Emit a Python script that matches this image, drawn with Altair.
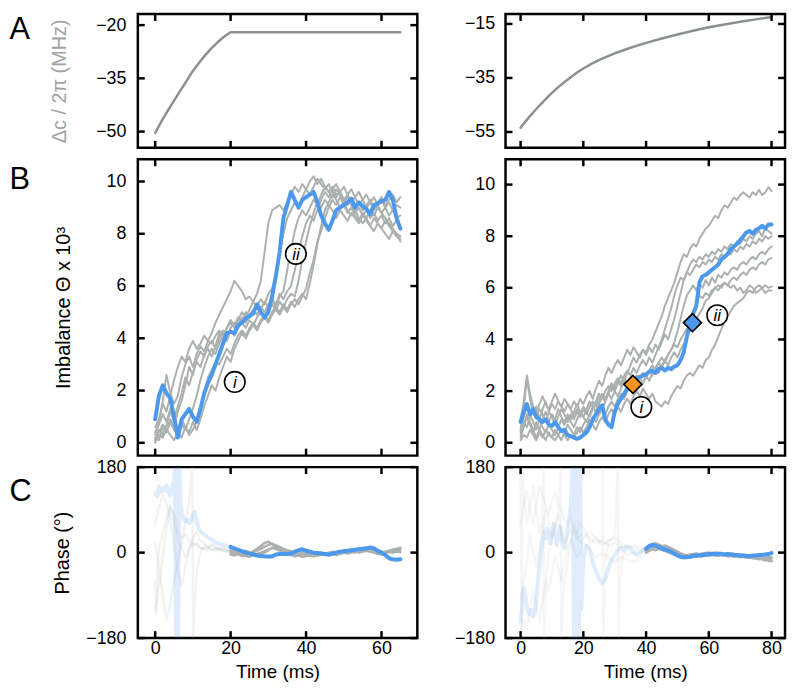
import altair as alt
import pandas as pd

FONT = "Liberation Sans"
GRAY = "#aab1af"
BLUE = "#4b98ec"
ORANGE = "#f7941d"
A_LINE = "#8a918f"
TITLE_GRAY = "#9fa4a3"
MINUS_EXPR = "replace(datum.label, '-', '\u2212')"

W = 282
HA, HB, HC = 135, 299, 172.5
U = alt.Undefined

# ---------------- axes ----------------
x_left_ticks = [0, 20, 40, 60]
x_right_ticks = [0, 20, 40, 60, 80]
x_left_domain = [-4.6, 69.5]
x_right_domain = [-4.8, 84.3]
a_left_ticks = [-50, -35, -20]
a_right_ticks = [-55, -35, -15]
a_left_domain = [-54.57, -16.86]
a_right_domain = [-60.85, -11.31]
b_ticks = [0, 2, 4, 6, 8, 10]
b_left_domain = [-0.49, 10.85]
b_right_domain = [-0.5, 10.98]
c_ticks = [-180, 0, 180]
c_domain = [-180, 180]

# ---------------- panel A ----------------
a_left_t = [0, 1, 2, 3, 4, 5, 6, 7, 8, 9, 10, 11, 12, 13, 14, 15, 16, 17, 18, 19, 20, 65]
a_left_v = [-50.4, -48.4, -46.5, -44.7, -43.0, -41.3, -39.6, -37.9, -36.3, -34.6, -32.9,
            -31.5, -30.1, -28.8, -27.6, -26.4, -25.4, -24.4, -23.5, -22.7, -22.0, -22.0]
a_right_t = [0, 1, 2, 3, 4, 5, 6, 7, 8, 9, 10, 12, 14, 16, 18, 20, 23, 26, 30, 35, 40,
             45, 50, 55, 60, 65, 70, 75, 80]
a_right_v = [-53.4, -51.9, -50.5, -49.1, -47.8, -46.5, -45.2, -44.0, -42.8, -41.6, -40.5,
             -38.4, -36.5, -34.7, -33.0, -31.5, -29.5, -27.8, -25.9, -23.8, -22.0,
             -20.4, -18.9, -17.5, -16.2, -15.2, -14.2, -13.3, -12.4]

# ---------------- panel B, left (t = 0..65 ms) ----------------
bl_blue = [0.9, 1.8, 2.2, 1.9, 1.7, 1.0, 0.2, 0.9, 1.1, 1.3,
           1.0, 0.8, 1.3, 1.9, 2.3, 2.6, 3.0, 3.4, 3.8, 4.2,
           4.25, 4.2, 4.5, 4.6, 4.75, 4.85, 4.95, 5.3, 5.0, 4.8,
           5.0, 5.6, 6.4, 7.3, 8.6, 9.1, 9.6, 9.3, 9.0, 9.3,
           9.4, 9.5, 9.6, 9.2, 8.7, 8.4, 8.15, 8.5, 8.9, 9.0,
           9.1, 9.2, 9.35, 9.0, 9.2, 9.05, 8.95, 8.75, 9.1, 9.15,
           9.25, 9.3, 9.6, 9.3, 8.6, 8.2]
bl_gray1 = [0.6, 0.9, 1.5, 1.2, 1.8, 2.4, 2.9, 3.3, 3.1, 3.6,
            3.9, 3.6, 3.8, 4.1, 3.9, 4.2, 4.6, 4.9, 5.2, 5.5,
            5.8, 6.2, 6.0, 5.8, 5.5, 5.6, 5.4, 5.7, 6.2, 7.3,
            8.4, 8.9, 9.0, 9.1, 8.9, 9.2, 9.5, 9.8, 9.6, 9.9,
            9.7, 10.0, 10.2, 9.9, 10.1, 9.8, 9.6, 9.8, 9.5, 9.6,
            9.3, 9.5, 9.2, 9.4, 9.1, 9.3, 9.0, 9.2, 8.9, 9.1,
            8.8, 9.0, 8.7, 8.9, 8.6, 8.7]
bl_gray2 = [0.3, 0.8, 1.6, 2.6, 1.9, 1.5, 1.8, 2.5, 3.0, 3.3,
            2.9, 3.4, 3.7, 3.5, 3.9, 3.8, 4.1, 4.3, 4.1, 4.4,
            4.6, 4.4, 4.7, 5.0, 4.8, 5.1, 5.4, 5.2, 5.5, 5.3,
            5.7, 5.9, 6.4, 7.2, 8.0, 8.6, 8.9, 9.2, 9.0, 9.4,
            9.7, 9.5, 9.8, 10.1, 9.9, 9.7, 9.9, 9.6, 9.4, 9.6,
            9.3, 9.1, 9.3, 9.0, 9.2, 8.9, 9.1, 9.3, 9.0, 9.2,
            9.4, 9.1, 9.3, 9.5, 9.2, 9.4]
bl_gray3 = [0.1, 0.4, 0.7, 0.5, 0.9, 0.6, 1.2, 1.6, 2.2, 2.9,
            2.6, 3.2, 3.5, 3.3, 3.7, 3.9, 3.6, 4.0, 4.3, 4.1,
            4.4, 4.6, 4.5, 4.8, 4.6, 4.9, 5.1, 4.9, 5.2, 5.0,
            5.3, 5.5, 5.2, 5.6, 5.8, 6.6, 7.4, 8.1, 8.6, 8.9,
            8.7, 9.0, 9.3, 9.1, 9.5, 9.8, 9.6, 9.4, 9.7, 9.5,
            9.2, 9.4, 9.1, 8.8, 9.0, 8.7, 8.9, 8.6, 8.8, 8.5,
            8.7, 8.4, 8.6, 8.3, 8.5, 8.2]
bl_gray4 = [0.2, 0.1, 0.6, 0.4, 0.8, 0.5, 0.3, 0.7, 0.5, 0.9,
            1.3, 1.8, 2.4, 2.9, 3.3, 3.6, 3.4, 3.8, 4.1, 3.9,
            4.3, 4.1, 4.4, 4.6, 4.4, 4.7, 4.5, 4.8, 5.0, 4.8,
            5.1, 5.3, 5.1, 5.4, 5.2, 5.5, 5.7, 5.6, 6.2, 7.0,
            7.7, 8.3, 8.8, 9.2, 9.0, 9.3, 9.1, 8.9, 8.6, 8.9,
            8.7, 8.5, 8.8, 8.6, 8.4, 8.7, 8.5, 8.3, 8.6, 8.4,
            8.2, 8.5, 8.3, 8.1, 8.0, 7.9]
bl_gray5 = [0.0, 0.3, 0.2, 0.5, 0.3, 0.1, 0.4, 0.2, 0.6, 0.3,
            0.5, 0.8, 1.2, 1.9, 2.5, 2.8, 3.1, 3.0, 3.3, 3.6,
            3.4, 3.8, 4.1, 4.3, 4.1, 4.4, 4.6, 4.4, 4.7, 4.9,
            4.7, 5.0, 5.2, 5.0, 5.3, 5.1, 5.4, 5.2, 5.5, 5.7,
            5.5, 6.1, 6.8, 7.6, 8.3, 8.9, 9.2, 9.5, 9.3, 9.0,
            9.2, 8.9, 8.7, 8.9, 8.6, 8.4, 8.6, 8.3, 8.1, 8.4,
            8.2, 8.0, 7.8, 8.1, 7.9, 7.8]
bl_gray6 = [0.4, 0.7, 1.1, 0.8, 1.3, 0.9, 1.4, 1.9, 2.5, 2.2,
            2.7, 3.1, 2.9, 3.4, 3.6, 3.3, 3.7, 4.2, 4.0, 4.4,
            4.7, 4.5, 4.8, 4.6, 5.0, 4.8, 5.1, 5.3, 5.1, 5.4,
            5.2, 5.5, 5.3, 5.7, 5.5, 5.8, 6.0, 6.6, 7.3, 7.9,
            8.4, 8.7, 8.5, 8.9, 9.3, 9.6, 9.4, 9.7, 9.9, 9.6,
            9.8, 9.5, 9.7, 9.4, 9.6, 9.3, 9.5, 9.2, 9.4, 9.1,
            9.3, 9.0, 9.2, 8.9, 9.1, 9.0]
bl_gray7 = [0.1, 0.5, 0.3, 0.7, 1.2, 0.8, 0.5, 0.9, 0.6, 0.4,
            0.8, 0.5, 0.9, 1.4, 1.8, 2.2, 2.0, 2.5, 2.9, 3.3,
            3.1, 3.6, 3.9, 4.2, 4.0, 4.3, 4.5, 4.3, 4.6, 4.8,
            4.6, 4.9, 5.1, 4.9, 5.2, 5.0, 5.3, 5.5, 5.3, 5.6,
            5.9, 6.5, 7.0, 7.7, 8.1, 8.6, 9.0, 9.3, 9.1, 9.4,
            9.1, 8.8, 9.0, 8.7, 8.5, 8.8, 8.6, 8.9, 8.7, 9.0,
            8.8, 8.6, 8.4, 8.2, 8.0, 7.7]

# ---------------- panel B, right (t = 0..80 ms) ----------------
br_blue = [0.8, 1.2, 1.5, 1.1, 1.3, 1.0, 0.9, 0.8, 0.9, 0.7,
           0.65, 0.8, 0.6, 0.45, 0.5, 0.3, 0.25, 0.2, 0.15, 0.2,
           0.3, 0.4, 0.6, 0.9, 1.1, 1.3, 1.45, 0.9, 0.7, 0.6,
           1.2, 1.5, 1.7, 1.9, 2.1, 2.25, 2.4, 2.5, 2.55, 2.6,
           2.65, 2.75, 2.8, 2.7, 2.85, 2.9, 2.8, 2.9, 2.85, 2.95,
           3.0, 3.2, 3.5, 4.1, 4.6, 5.0, 5.3, 6.2, 6.45, 6.5,
           6.6, 6.7, 6.8, 6.9, 7.1, 7.2, 7.3, 7.5, 7.6, 7.7,
           7.85, 8.0, 8.15, 8.2, 8.1, 8.25, 8.3, 8.4, 8.3, 8.45, 8.45]
br_gray1 = [0.4, 1.3, 2.5, 1.7, 1.1, 1.4, 0.9, 1.3, 1.6, 1.2,
            1.5, 1.3, 1.6, 1.4, 1.7, 1.5, 1.3, 1.6, 1.4, 1.7,
            1.5, 1.8, 2.0, 1.7, 2.1, 2.4, 2.2, 2.6, 2.9, 2.7,
            3.0, 3.2, 3.0, 3.3, 3.6, 3.4, 3.7, 3.5, 3.3, 3.6,
            3.5, 3.8, 4.0, 4.3, 4.6, 4.9, 5.3, 5.6, 5.9, 6.2,
            6.6, 7.0, 7.3, 7.2, 7.5, 7.7, 7.6, 7.9, 8.1, 8.3,
            8.4, 8.6, 8.8, 8.7, 9.0, 9.2, 9.1, 9.3, 9.5, 9.4,
            9.6, 9.7, 9.6, 9.5, 9.7, 9.6, 9.8, 9.6, 9.7, 9.9, 9.75]
br_gray2 = [0.2, 0.6, 1.0, 0.7, 0.4, 0.8, 0.5, 0.9, 1.2, 0.8,
            1.1, 0.9, 1.3, 1.0, 0.8, 1.1, 0.9, 1.2, 1.5, 1.2,
            1.0, 1.3, 1.6, 1.4, 1.2, 1.5, 1.8, 1.6, 1.9, 2.2,
            2.0, 2.3, 2.6, 2.4, 2.7, 3.0, 3.3, 3.1, 3.4, 3.6,
            3.4, 3.7, 3.5, 3.8, 3.6, 3.9, 4.2, 4.0, 4.4, 4.8,
            5.3, 5.8, 6.3, 6.6, 6.9, 7.1, 7.0, 7.2, 7.1, 7.3,
            7.2, 7.4, 7.3, 7.5, 7.4, 7.6, 7.5, 7.7, 7.6, 7.8,
            7.7, 7.9, 7.8, 8.0, 7.9, 8.1, 8.2, 8.0, 8.3, 8.2, 8.1]
br_gray3 = [0.6, 1.0, 1.4, 1.1, 0.8, 0.5, 0.9, 0.6, 0.4, 0.7,
            0.5, 0.3, 0.6, 0.9, 0.7, 1.0, 0.8, 0.6, 0.9, 1.2,
            1.0, 0.8, 1.1, 1.4, 1.2, 1.5, 1.3, 1.6, 1.9, 1.7,
            2.0, 1.8, 2.1, 2.4, 2.2, 2.5, 2.3, 2.6, 2.4, 2.7,
            2.5, 2.8, 3.0, 2.8, 3.1, 3.3, 3.1, 3.4, 3.6, 3.9,
            4.3, 4.8, 5.3, 5.7, 5.9, 6.1, 5.9, 6.2, 6.0, 6.3,
            6.1, 6.4, 6.2, 6.5, 6.4, 6.6, 6.5, 6.7, 6.8, 6.7,
            6.9, 7.0, 6.9, 7.1, 7.2, 7.1, 7.3, 7.4, 7.3, 7.5, 7.6]
br_gray4 = [0.1, 0.3, 0.2, 0.5, 0.3, 0.1, 0.4, 0.2, 0.5, 0.3,
            0.2, 0.5, 0.3, 0.1, 0.4, 0.7, 0.5, 0.3, 0.6, 0.4,
            0.7, 0.9, 0.7, 1.0, 0.8, 1.1, 1.3, 1.1, 1.4, 1.6,
            1.4, 1.7, 1.9, 1.7, 2.0, 2.2, 2.0, 2.3, 2.5, 2.3,
            2.6, 2.4, 2.7, 2.9, 2.7, 3.0, 3.2, 3.0, 3.3, 3.5,
            3.3, 3.6, 3.8, 4.1, 4.5, 5.0, 5.4, 5.7, 5.6, 5.8,
            5.7, 5.9, 6.0, 5.9, 6.1, 6.2, 6.1, 6.3, 6.4, 6.3,
            6.5, 6.6, 6.5, 6.7, 6.8, 6.7, 6.9, 7.0, 6.9, 7.1, 7.15]
br_gray5 = [0.3, 0.7, 1.1, 0.8, 0.5, 0.2, 0.5, 0.3, 0.1, 0.4,
            0.2, 0.1, 0.3, 0.5, 0.3, 0.1, 0.3, 0.2, 0.4, 0.6,
            0.4, 0.6, 0.9, 0.7, 0.5, 0.8, 1.0, 0.8, 1.1, 1.3,
            1.1, 1.4, 1.2, 1.5, 1.7, 1.5, 1.8, 2.0, 1.8, 2.1,
            1.9, 1.7, 1.9, 1.6, 1.5, 1.4, 1.6, 1.5, 1.8, 2.0,
            2.2, 2.1, 2.4, 2.6, 2.7, 2.6, 2.8, 3.0, 2.9, 3.2,
            3.3, 3.6, 3.8, 4.1, 4.4, 4.7, 4.9, 5.1, 5.3, 5.4,
            5.5, 5.6, 5.8, 5.9, 5.8, 6.0, 6.1, 6.0, 6.1, 6.0, 6.05]
br_gray6 = [0.9, 1.6, 2.6, 1.9, 1.4, 1.0, 1.3, 1.1, 0.8, 1.2,
            1.0, 0.7, 1.0, 1.3, 1.1, 0.8, 1.1, 0.9, 1.2, 1.0,
            1.3, 1.1, 1.4, 1.6, 1.4, 1.7, 1.9, 1.7, 2.0, 2.3,
            2.1, 2.4, 2.2, 2.5, 2.3, 2.1, 2.4, 2.2, 2.5, 2.7,
            2.5, 2.8, 2.6, 2.9, 3.1, 2.9, 3.2, 3.4, 3.6, 3.8,
            3.7, 4.0, 4.2, 4.4, 4.3, 4.6, 4.8, 5.0, 5.2, 5.5,
            5.6, 5.8, 6.0, 6.1, 6.0, 6.2, 6.1, 6.0, 6.1, 5.9,
            6.0, 5.8, 5.9, 6.1, 6.0, 5.8, 5.9, 6.0, 5.8, 5.9, 5.9]
br_gray7 = [0.5, 0.8, 0.6, 1.0, 1.4, 1.1, 1.5, 1.8, 1.5, 1.3,
            1.6, 1.9, 1.6, 1.4, 1.2, 1.5, 1.3, 1.0, 1.3, 1.1,
            1.4, 1.2, 1.0, 1.3, 1.6, 1.9, 1.7, 2.0, 2.2, 2.0,
            2.3, 2.5, 2.3, 2.6, 2.8, 2.6, 2.9, 2.7, 3.0, 3.2,
            3.0, 3.3, 3.1, 3.4, 3.7, 4.0, 4.4, 4.8, 5.2, 5.7,
            6.1, 6.4, 6.3, 6.6, 6.5, 6.7, 6.9, 6.8, 7.0, 6.9,
            7.1, 7.0, 7.2, 7.1, 7.3, 7.2, 7.4, 7.3, 7.5, 7.4,
            7.6, 7.5, 7.7, 7.6, 7.8, 7.7, 7.9, 7.8, 8.0, 7.9, 8.0]

# markers and circled labels in panel B
bl_label_t = [21.1, 37.3]
bl_label_v = [2.33, 7.23]
bl_label_txt = ["i", "ii"]
br_label_t = [38.5, 62.7]
br_label_v = [1.38, 4.94]
br_label_txt = ["i", "ii"]
br_diamond_t = [35.8, 54.8]
br_diamond_v = [2.26, 4.65]
br_diamond_kind = ["i", "ii"]

# ---------------- panel C, left ----------------
cl_blue = [12, 9, 6, 3, 0, -2, -4, -6, -7, -8,
           -8, -8, -4, -3, -3, -3, -2, 2, 5, 7,
           4, 2, 0, -1, -2, -3, -4, -2, 0, 2,
           3, 4, 5, 6, 7, 8, 9, 11, 9, 4,
           0, -5, -12, -14, -15, -14]            # t = 20..65
cl_gray1 = [2, 0, -3, -1, -4, -2, 3, 8, 14, 20, 23, 18, 15, 12, 8, 5, 3, 0, -2, 1,
            -1, -3, -5, -2, 0, -3, -1, 2, 0, 3, 1, 4, 2, 5, 6, 4, 7, 5, 3, 1,
            -1, 2, 4, 6, 8, 10]
cl_gray2 = [-4, -6, -3, -7, -5, -2, 0, 4, 8, 12, 16, 19, 14, 10, 6, 2, -1, -4, -6, -3,
            -5, -7, -4, -2, -5, -3, -6, -4, -1, -3, 0, -2, 1, 3, 0, 2, 4, 2, 0, -3,
            -1, 1, 3, 2, 4, 5]
cl_gray3 = [6, 3, 5, 2, 4, 1, -2, -5, -3, 0, 5, 10, 13, 9, 5, 2, -1, -3, 0, -2,
            -4, -1, -3, -6, -4, -2, 0, -3, -5, -2, 1, -1, 2, 0, 3, 5, 7, 9, 6, 4,
            2, 0, 3, 5, 7, 9]
cl_gray4 = [-2, 1, -1, -4, -7, -9, -6, -3, 0, 3, 6, 10, 8, 4, 1, -2, -5, -8, -6, -9,
            -7, -5, -8, -6, -3, -5, -2, 0, -2, 1, -1, 2, 0, 2, 4, 3, 5, 3, 1, -2,
            -4, -1, 1, 0, 2, 1]
cl_fade_blue_t = [0, 0.5, 1, 1.5, 2, 2.5, 3, 3.5, 4, 4.5, 5, 5.2, 5.5, 5.8, 6.1, 6.4, 6.7, 7,
                  7.5, 8, 8.5, 9, 9.5, 10, 10.5, 11, 11.5, 12, 13, 14, 15, 16, 17, 18, 19, 20]
cl_fade_blue_v = [125, 118, 140, 128, 136, 130, 142, 128, 120, 138, 150, 180, -180, 180, -180,
                  180, 110, 85, 72, 66, 70, 62, 68, 80, 86, 66, 52, 45, 38, 32, 27, 22, 19, 16,
                  14, 12]
cl_fade_g1_t = [0, 1, 2, 3, 4, 5, 6, 7, 8, 9, 10, 11, 12, 13, 14, 15, 16, 17, 18, 19, 20]
cl_fade_g1_v = [-120, -70, -10, 50, 95, 80, 45, 30, 40, 25, 15, 20, 10, 8, 12, 6, 4, 8, 3, 2, 0]
cl_fade_g2_t = [0, 1, 2, 3, 4, 5, 6, 7, 8, 9, 10, 11, 12, 13, 14, 15, 16, 17, 18, 19, 20]
cl_fade_g2_v = [60, 95, 120, 105, 70, 20, -40, -70, -30, 10, 30, 45, 25, 20, 12, 15, 10, 6, 8, 4, 3]
cl_fade_g3_t = [0, 1, 2, 3, 4, 5, 6, 7, 8, 9, 9.5, 9.8, 10.1, 10.4, 11, 12, 13, 14, 15, 16,
                17, 18, 19, 20]
cl_fade_g3_v = [20, -30, -90, -140, -110, -60, -20, 20, 60, 110, 150, 180, -180, -120, -40, 0,
                15, 10, 18, 12, 8, 10, 5, 2]
cl_fade_g4_t = [0, 0.3, 0.6, 1, 2, 3, 4, 5, 6, 7, 8, 9, 10, 12, 14, 16, 18, 20]
cl_fade_g4_v = [-60, -130, -40, 10, 40, 70, 100, 60, 30, 10, -10, 5, 20, 10, 5, 8, 4, 6]

# ---------------- panel C, right ----------------
cr_blue = [8, 14, 16, 14, 12, 9, 7, 4, 2, -2,
           -6, -9, -10, -10, -9, -7, -6, -6, -5, -4,
           -3, -3, -2, -3, -3, -4, -3, -4, -5, -5,
           -6, -6, -7, -7, -6, -6, -5, -5, -4, -3, -1]   # t = 40..80
cr_gray1 = [5, 10, 12, 15, 17, 14, 11, 8, 6, 3, 0, -3, -5, -7, -6, -5, -4, -3, -4, -2,
            -1, -2, -3, -1, -2, -3, -4, -2, -3, -5, -4, -6, -5, -7, -8, -7, -9, -10, -12,
            -13, -12]
cr_gray2 = [2, 6, 9, 12, 10, 13, 15, 12, 9, 6, 2, -2, -5, -8, -10, -9, -8, -6, -7, -5,
            -6, -4, -5, -6, -4, -5, -7, -6, -8, -7, -9, -8, -10, -11, -10, -12, -14, -13,
            -15, -17, -18]
cr_gray3 = [10, 15, 18, 20, 16, 12, 14, 10, 7, 4, 1, -1, -4, -6, -4, -3, -2, -4, -2, -1,
            0, -1, -2, 0, -1, -3, -2, -4, -3, -5, -6, -5, -7, -6, -8, -9, -8, -10, -11,
            -9, -10]
cr_gray4 = [0, 4, 7, 5, 8, 6, 3, 1, -2, -4, -7, -9, -12, -10, -11, -8, -9, -7, -8, -6,
            -7, -5, -6, -7, -5, -6, -8, -7, -9, -8, -10, -9, -11, -10, -12, -13, -12, -14,
            -16, -15, -17]
cr_fade_blue_t = [0, 0.5, 1, 1.5, 2, 2.5, 3, 3.5, 4, 4.5, 5, 5.5, 6, 6.5, 7, 7.5, 8, 8.5, 9,
                  9.5, 10, 10.5, 11, 11.5, 12, 12.5, 13, 13.5, 14, 14.5, 15, 15.5, 16, 16.3,
                  16.6, 17, 17.4, 17.8, 18.2, 18.6, 19, 19.4, 20, 21, 22, 23, 24, 25, 26, 27,
                  28, 29, 30, 31, 32, 33, 34, 35, 36, 37, 38, 39, 40]
cr_fade_blue_v = [-145, -110, -75, -90, -115, -125, -130, -120, -135, -125, -95, -60, -30, 0,
                  25, 45, 30, 50, 35, 20, 40, 60, 35, 15, 30, 55, 40, 20, 10, 30, 50, 70, 100,
                  140, 180, -180, 180, -180, 180, -180, 180, -120, -10, 15, 5, -20, -40, -55,
                  -65, -55, -35, -15, -5, 5, 10, 5, 12, 8, 0, -5, -2, 5, 10]
cr_fade_g1_t = [0, 0.3, 0.6, 1, 2, 3, 4, 5, 6, 7, 7.3, 7.5, 7.8, 8, 9, 10, 11, 12, 13, 14,
                16, 18, 20, 22, 24, 26, 28, 30, 32, 34, 36, 38, 40]
cr_fade_g1_v = [180, -180, 180, 120, 60, 100, 140, 90, 40, 70, 180, -180, -120, -60, 0, 30,
                60, 80, 40, 20, 50, 30, 40, 30, 20, 25, 15, 20, 10, 15, 10, 5, 8]
cr_fade_g2_t = [0, 1, 2, 3, 4, 5, 6, 7, 8, 9, 10, 11, 12, 12.5, 12.8, 13, 13.3, 14, 15, 16,
                17, 18, 19, 20, 22, 24, 26, 26.2, 26.4, 27, 28, 30, 32, 34, 36, 38, 40]
cr_fade_g2_v = [-100, -60, -20, 40, 0, -30, 10, 50, 90, 60, 30, 50, 80, 130, 180, -180, -120,
                -60, -20, 20, 60, 40, 20, 30, 45, 30, 20, 180, -180, -20, 25, 30, 20, 10, 15,
                10, 12]
cr_fade_g3_t = [0, 1, 2, 3, 4, 5, 6, 7, 8, 9, 10, 11, 12, 13, 14, 15, 16, 17, 18, 19, 20,
                21, 22, 24, 26, 28, 30, 31, 31.2, 31.5, 32, 33, 34, 36, 38, 40]
cr_fade_g3_v = [60, 100, 130, 90, 60, 100, 140, 120, 100, 80, 110, 130, 100, 90, 70, 60, 80,
                50, 40, 60, 55, 40, 20, 30, 15, 25, 35, 180, -180, -100, -30, 0, -5, 0, 2, 0]
cr_fade_g4_t = [0, 1, 2, 3, 4, 5, 6, 7, 8, 9, 10, 11, 12, 13, 14, 15, 16, 17, 18, 19, 20,
                22, 24, 26, 28, 30, 32, 34, 36, 38, 40]
cr_fade_g4_v = [-170, -140, -160, -120, -80, -110, -150, -100, -60, -80, -40, -10, -30, -60,
                -20, 10, 30, 10, -10, 0, 20, 10, -10, 0, -10, -20, -10, -15, -20, -10, -5]


# ---------------- helpers ----------------
def long_df(traces, t0):
    rows = []
    for name, vals in traces:
        for i, v in enumerate(vals):
            rows.append({"t": t0 + i, "v": v, "trace": name, "i": i})
    return pd.DataFrame(rows)


def pair_df(traces):
    rows = []
    for name, ts, vs in traces:
        for i, (t, v) in enumerate(zip(ts, vs)):
            rows.append({"t": t, "v": v, "trace": name, "i": i})
    return pd.DataFrame(rows)


def scale(dom):
    return alt.Scale(domain=dom, nice=False, zero=False)


def y_axis(values, pad, title=None, title_x=None, h=None, color="black"):
    kw = dict(values=values, ticks=False, tickSize=0, domain=False, grid=False,
              labelFont=FONT, labelFontSize=18, labelColor="black", labelPadding=pad,
              labelFlush=False, labelOverlap=False, labelExpr=MINUS_EXPR)
    if title is not None:
        kw.update(title=title, titleFont=FONT, titleFontSize=20, titleFontWeight="normal",
                  titleColor=color, titleX=title_x, titleY=h / 2, titleAngle=270,
                  titleAlign="center", titleBaseline="middle")
    else:
        kw["title"] = None
    return alt.Axis(**kw)


def x_axis(values):
    return alt.Axis(values=values, ticks=False, tickSize=0, domain=False, grid=False,
                    labelFont=FONT, labelFontSize=18, labelColor="black", labelPadding=2,
                    labelFlush=False, labelOverlap=False,
                    title="Time (ms)", titleFont=FONT, titleFontSize=19,
                    titleFontWeight="normal", titleColor="black", titleX=W / 2, titleY=40,
                    titleAlign="center", titleBaseline="alphabetic")


def lines(df, color, width, xs, ys, xax, yax=U, opacity=1.0):
    return alt.Chart(df).mark_line(color=color, strokeWidth=width, opacity=opacity,
                                   clip=True, strokeJoin="round", strokeCap="round").encode(
        x=alt.X("t:Q", scale=xs, axis=xax),
        y=alt.Y("v:Q", scale=ys, axis=yax),
        detail="trace:N",
        order="i:Q",
    )


def tick_marks(xvals, yvals, xs, ys, h, xax):
    L = 7
    dx = pd.DataFrame({"t": xvals})
    dy = pd.DataFrame({"v": yvals})
    rule = dict(color="black", strokeWidth=2.5)
    xe = alt.X("t:Q", scale=xs, axis=xax)
    ye = alt.Y("v:Q", scale=ys)
    return [
        alt.Chart(dx).mark_rule(**rule).encode(x=xe, y=alt.value(0), y2=alt.value(L)),
        alt.Chart(dx).mark_rule(**rule).encode(x=xe, y=alt.value(h), y2=alt.value(h - L)),
        alt.Chart(dy).mark_rule(**rule).encode(y=ye, x=alt.value(0), x2=alt.value(L)),
        alt.Chart(dy).mark_rule(**rule).encode(y=ye, x=alt.value(W), x2=alt.value(W - L)),
    ]


def letter(ch, base_y):
    return alt.Chart(pd.DataFrame({"lab": [ch]})).mark_text(
        align="left", baseline="alphabetic", fontSize=31, font=FONT, color="black"
    ).encode(text="lab:N", x=alt.value(-129.5), y=alt.value(base_y))


def circled(ts, vs, txt, xs, ys):
    df = pd.DataFrame({"t": ts, "v": vs, "txt": txt})
    circ = alt.Chart(df).mark_point(shape="circle", filled=True, fill="white", stroke="black",
                                    strokeWidth=1.6, size=430, opacity=1).encode(
        x=alt.X("t:Q", scale=xs, axis=None), y=alt.Y("v:Q", scale=ys))
    text = alt.Chart(df).mark_text(font=FONT, fontSize=17, fontStyle="italic", color="black",
                                   align="center", baseline="middle", dy=1).encode(
        x=alt.X("t:Q", scale=xs, axis=None), y=alt.Y("v:Q", scale=ys),
        text="txt:N")
    return [circ, text]


# ---------------- panels ----------------
xsL, xsR = scale(x_left_domain), scale(x_right_domain)

# A left
ysAL = scale(a_left_domain)
A_L = alt.layer(
    lines(pair_df([("a", a_left_t, a_left_v)]), A_LINE, 2.5, xsL, ysAL, None,
          y_axis(a_left_ticks, 12, "Δc / 2π (MHz)", -78.5, HA, TITLE_GRAY)),
    *tick_marks(x_left_ticks, a_left_ticks, xsL, ysAL, HA, None),
    letter("A", 25.5),
).properties(width=W, height=HA)

# A right
ysAR = scale(a_right_domain)
A_R = alt.layer(
    lines(pair_df([("a", a_right_t, a_right_v)]), A_LINE, 2.5, xsR, ysAR, None,
          y_axis(a_right_ticks, 11)),
    *tick_marks(x_right_ticks, a_right_ticks, xsR, ysAR, HA, None),
).properties(width=W, height=HA)

# B left
ysBL = scale(b_left_domain)
bl_gray_df = long_df([("g1", bl_gray1), ("g2", bl_gray2), ("g3", bl_gray3), ("g4", bl_gray4),
                      ("g5", bl_gray5), ("g6", bl_gray6), ("g7", bl_gray7)], 0)
B_L = alt.layer(
    lines(bl_gray_df, GRAY, 2, xsL, ysBL, None,
          y_axis(b_ticks, 12, "Imbalance Θ x 10³", -75, HB)),
    lines(long_df([("b", bl_blue)], 0), BLUE, 4, xsL, ysBL, None),
    *circled(bl_label_t, bl_label_v, bl_label_txt, xsL, ysBL),
    *tick_marks(x_left_ticks, b_ticks, xsL, ysBL, HB, None),
    letter("B", 30.2),
).properties(width=W, height=HB)

# B right
ysBR = scale(b_right_domain)
br_gray_df = long_df([("g1", br_gray1), ("g2", br_gray2), ("g3", br_gray3), ("g4", br_gray4),
                      ("g5", br_gray5), ("g6", br_gray6), ("g7", br_gray7)], 0)
diamonds = alt.Chart(pd.DataFrame({"t": br_diamond_t, "v": br_diamond_v,
                                   "kind": br_diamond_kind})).mark_point(
    shape="diamond", filled=True, size=330, stroke="black", strokeWidth=1.6, opacity=1
).encode(
    x=alt.X("t:Q", scale=xsR, axis=None), y=alt.Y("v:Q", scale=ysBR),
    fill=alt.Fill("kind:N", scale=alt.Scale(domain=["i", "ii"], range=[ORANGE, BLUE]),
                  legend=None),
)
B_R = alt.layer(
    lines(br_gray_df, GRAY, 2, xsR, ysBR, None, y_axis(b_ticks, 11)),
    lines(long_df([("b", br_blue)], 0), BLUE, 4, xsR, ysBR, None),
    diamonds,
    *circled(br_label_t, br_label_v, br_label_txt, xsR, ysBR),
    *tick_marks(x_right_ticks, b_ticks, xsR, ysBR, HB, None),
).properties(width=W, height=HB)

# C left
ysC = scale(c_domain)
cl_fade_gray_df = pair_df([("f1", cl_fade_g1_t, cl_fade_g1_v), ("f2", cl_fade_g2_t, cl_fade_g2_v),
                           ("f3", cl_fade_g3_t, cl_fade_g3_v), ("f4", cl_fade_g4_t, cl_fade_g4_v)])
C_L = alt.layer(
    lines(cl_fade_gray_df, GRAY, 2.5, xsL, ysC, x_axis(x_left_ticks),
          y_axis(c_ticks, 12, "Phase (°)", -75.5, HC), opacity=0.15),
    lines(pair_df([("fb", cl_fade_blue_t, cl_fade_blue_v)]), BLUE, 4, xsL, ysC, U, opacity=0.18),
    lines(long_df([("g1", cl_gray1), ("g2", cl_gray2), ("g3", cl_gray3), ("g4", cl_gray4)], 20),
          GRAY, 2.5, xsL, ysC, U),
    lines(long_df([("b", cl_blue)], 20), BLUE, 4, xsL, ysC, U),
    *tick_marks(x_left_ticks, c_ticks, xsL, ysC, HC, U),
    letter("C", 34.2),
).properties(width=W, height=HC)

# C right
cr_fade_gray_df = pair_df([("f1", cr_fade_g1_t, cr_fade_g1_v), ("f2", cr_fade_g2_t, cr_fade_g2_v),
                           ("f3", cr_fade_g3_t, cr_fade_g3_v), ("f4", cr_fade_g4_t, cr_fade_g4_v)])
C_R = alt.layer(
    lines(cr_fade_gray_df, GRAY, 2.5, xsR, ysC, x_axis(x_right_ticks),
          y_axis(c_ticks, 11), opacity=0.12),
    lines(pair_df([("fb", cr_fade_blue_t, cr_fade_blue_v)]), BLUE, 4, xsR, ysC, U, opacity=0.18),
    lines(long_df([("g1", cr_gray1), ("g2", cr_gray2), ("g3", cr_gray3), ("g4", cr_gray4)], 40),
          GRAY, 2.5, xsR, ysC, U),
    lines(long_df([("b", cr_blue)], 40), BLUE, 4, xsR, ysC, U),
    *tick_marks(x_right_ticks, c_ticks, xsR, ysC, HC, U),
).properties(width=W, height=HC)

chart = alt.concat(
    A_L, A_R, B_L, B_R, C_L, C_R,
    columns=2,
    spacing={"row": 11.6, "column": 89},
    bounds="flush",
    align="each",
).properties(
    padding={"left": 0, "top": 0, "right": 0, "bottom": 0}
).configure(
    font=FONT
).configure_view(
    stroke="black", strokeWidth=2.5
)

chart.save("out.html", embed_options={"renderer": "svg", "actions": False})
